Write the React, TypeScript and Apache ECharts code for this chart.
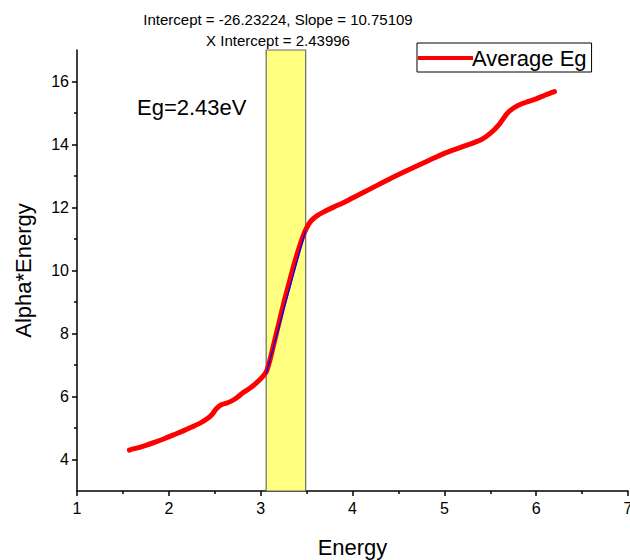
import React, { useEffect, useRef } from "react";
import * as echarts from "echarts";

const curveEnergy = [1.57, 1.6, 1.65, 1.75, 1.85, 1.95, 2.05, 2.15, 2.25, 2.35, 2.42, 2.47, 2.52, 2.57, 2.64, 2.72, 2.8, 2.9, 2.99, 3.06, 3.1, 3.15, 3.2, 3.25, 3.3, 3.35, 3.4, 3.45, 3.5, 3.55, 3.62, 3.7, 3.8, 3.9, 4.0, 4.2, 4.4, 4.6, 4.8, 5.0, 5.2, 5.4, 5.5, 5.6, 5.68, 5.75, 5.85, 6.0, 6.1, 6.2];
const curveAlphaE = [4.3, 4.33, 4.36, 4.45, 4.55, 4.66, 4.78, 4.9, 5.03, 5.17, 5.3, 5.43, 5.62, 5.74, 5.8, 5.92, 6.1, 6.3, 6.53, 6.78, 7.15, 7.75, 8.35, 8.95, 9.5, 10.05, 10.55, 11.0, 11.35, 11.58, 11.75, 11.88, 12.02, 12.15, 12.3, 12.6, 12.9, 13.18, 13.45, 13.72, 13.93, 14.15, 14.35, 14.65, 14.97, 15.15, 15.3, 15.45, 15.57, 15.68];

const fitEnergy = [3.06, 3.49];
const fitAlphaE = [6.72, 11.28];

const bandRange = [3.06, 3.49];

const xTicks = [1, 2, 3, 4, 5, 6, 7];
const yMajorTicks = [4, 6, 8, 10, 12, 14, 16];
const yMinorTicks = [5, 7, 9, 11, 13, 15];

const titleLines = ["Intercept = -26.23224, Slope = 10.75109", "X Intercept = 2.43996"];
const egLabel = "Eg=2.43eV";
const seriesName = "Average Eg";

const FONT = "'Liberation Sans', Arial, sans-serif";

export default function App() {
  const ref = useRef<HTMLDivElement>(null);
  useEffect(() => {
    if (!ref.current) return;
    const chart = echarts.init(ref.current, null, { renderer: "svg" });
    const curve = curveEnergy.map((x, i) => [x, curveAlphaE[i]]);
    const fit = fitEnergy.map((x, i) => [x, fitAlphaE[i]]);
    chart.setOption({
      animation: false,
      backgroundColor: "#fff",
      textStyle: { fontFamily: FONT, color: "#000" },
      grid: { left: 77, right: 2, top: 50, bottom: 69, containLabel: false, outerBoundsMode: "none" },
      title: {
        text: titleLines.join("\n"),
        left: 273,
        textAlign: "center",
        top: 4,
        textStyle: { fontFamily: FONT, fontSize: 15, fontWeight: "normal", color: "#000", lineHeight: 21 },
      },
      legend: {
        data: [{ name: seriesName, icon: "rect" }],
        left: 417,
        top: 43,
        selectedMode: false,
        borderColor: "#000",
        borderWidth: 1,
        padding: [4, 5, 3, 1],
        itemWidth: 55,
        itemHeight: 4,
        textStyle: { fontFamily: FONT, fontSize: 22, color: "#000", padding: [0, 0, 0, -6] },
      },
      graphic: [
        {
          type: "text",
          left: 137,
          top: 96,
          style: { text: egLabel, fontFamily: FONT, fontSize: 22, fill: "#000" },
        },
      ],
      xAxis: {
        type: "value",
        min: 1,
        max: 7,
        interval: 1,
        name: "Energy",
        nameLocation: "middle",
        nameGap: 45,
        nameTextStyle: { fontFamily: FONT, fontSize: 22, color: "#000" },
        axisLine: { lineStyle: { color: "#000", width: 1.5 } },
        axisTick: { length: 5, lineStyle: { color: "#000", width: 1.5 } },
        minorTick: { show: true, splitNumber: 2, length: 3, lineStyle: { color: "#000", width: 1.5 } },
        splitLine: { show: false },
        axisLabel: {
          fontFamily: FONT,
          fontSize: 16,
          color: "#000",
          margin: 9,
          customValues: xTicks,
        },
      },
      yAxis: [
        {
          type: "value",
          min: 3,
          max: 17,
          name: "Alpha*Energy",
          nameLocation: "middle",
          nameGap: 43,
          nameTextStyle: { fontFamily: FONT, fontSize: 22, color: "#000" },
          axisLine: { show: true, lineStyle: { color: "#000", width: 1.5 } },
          axisTick: { show: true, length: 5, customValues: yMajorTicks, lineStyle: { color: "#000", width: 1.5 } },
          splitLine: { show: false },
          axisLabel: {
            fontFamily: FONT,
            fontSize: 16,
            color: "#000",
            margin: 8,
            customValues: yMajorTicks,
          },
        },
        {
          type: "value",
          min: 3,
          max: 17,
          position: "left",
          axisLine: { show: false },
          axisTick: { show: true, length: 3, customValues: yMinorTicks, lineStyle: { color: "#000", width: 1.5 } },
          axisLabel: { show: false },
          splitLine: { show: false },
        },
      ],
      series: [
        {
          name: seriesName,
          type: "line",
          data: curve,
          symbol: "none",
          smooth: 0.3,
          lineStyle: { color: "#ff0000", width: 5, cap: "round" },
          itemStyle: { color: "#ff0000" },
          z: 2,
          markArea: {
            silent: true,
            itemStyle: { color: "#ffff80", borderColor: "#6b6b6b", borderWidth: 1.2 },
            data: [[{ xAxis: bandRange[0] }, { xAxis: bandRange[1] }]],
          },
        },
        {
          name: "fit",
          type: "line",
          data: fit,
          symbol: "none",
          lineStyle: { color: "#0000ff", width: 1.3 },
          z: 3,
        },
      ],
    });
    return () => chart.dispose();
  }, []);
  return <div ref={ref} style={{ position: "fixed", left: 0, top: 0, width: 630, height: 560 }} />;
}
